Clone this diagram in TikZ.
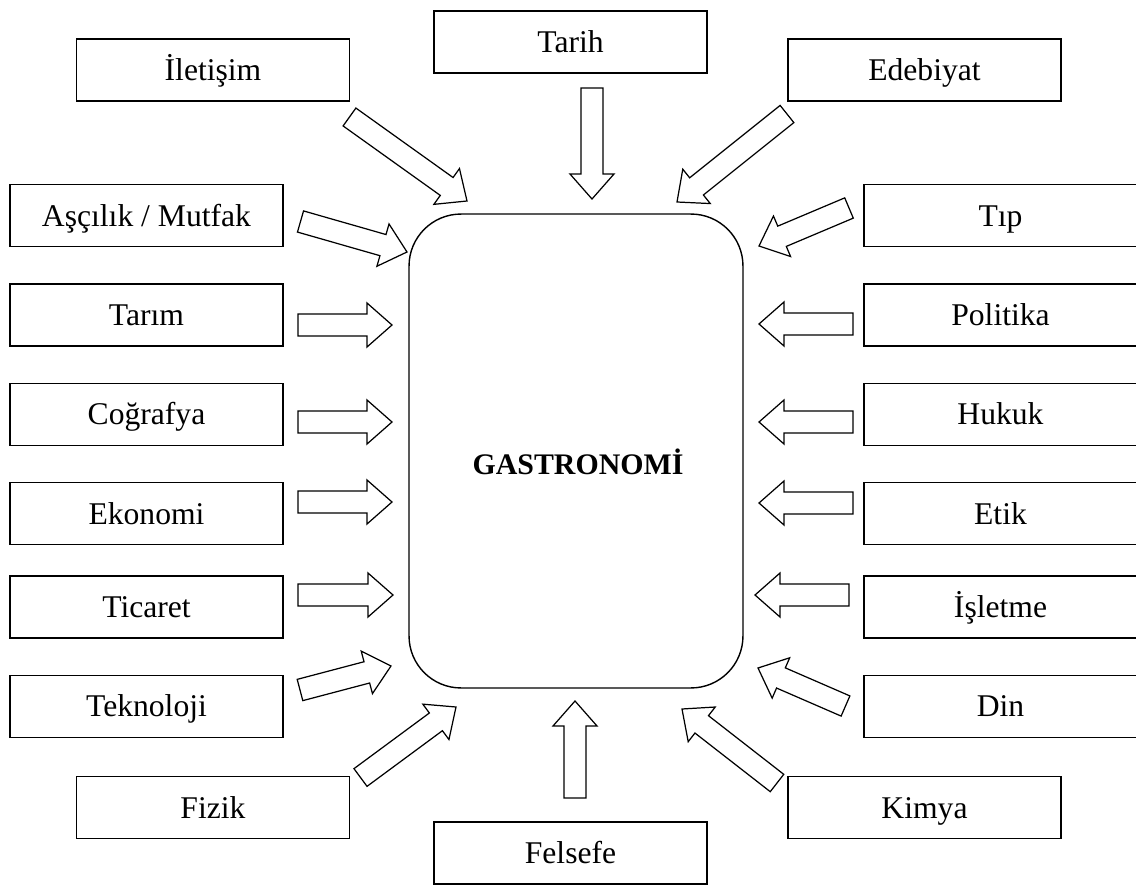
\documentclass[tikz,border=0pt]{standalone}
\usepackage{fontspec}
\setmainfont{Liberation Serif}
\usetikzlibrary{positioning, calc}

% hollow block arrow from tail #1 to tip #2
\newcommand{\fatarrow}[2]{%
  \draw[fat] let \p1=($(#2)-(#1)$), \n1={atan2(\y1,\x1)} in
    ($(#1)+({\n1+90}:0.22cm)$) --
    ($(#2)+({\n1+180}:0.5cm)+({\n1+90}:0.22cm)$) --
    ($(#2)+({\n1+180}:0.5cm)+({\n1+90}:0.44cm)$) --
    (#2) --
    ($(#2)+({\n1+180}:0.5cm)+({\n1-90}:0.44cm)$) --
    ($(#2)+({\n1+180}:0.5cm)+({\n1-90}:0.22cm)$) --
    ($(#1)+({\n1-90}:0.22cm)$) -- cycle;}

\begin{document}
\begin{tikzpicture}[x=0.02cm, y=-0.02cm, node distance=0.72cm]
		\tikzstyle{block} = [rectangle, draw, line width=0.8pt, minimum width=5.46cm, minimum height=1.24cm, text height=16pt, text depth=4pt, font=\fontsize{18}{22}\selectfont]
		\tikzstyle{core} = [rectangle, draw, line width=0.8pt, rounded corners=1.04cm, minimum width=6.68cm, minimum height=9.48cm]
		\tikzstyle{fat} = [draw, line width=0.7pt, line join=miter]
		
		\useasboundingbox (0,0) rectangle (1136,885);
		
		\node [core] (gastro) at (576,451) {};
		\node [font=\fontsize{17}{21}\selectfont\bfseries, text height=15pt, text depth=4pt] (title) at (578,465) {GASTRONOMİ};
		
		% top
		\node [block] (iletisim) at (213,70) {İletişim};
		\node [block] (tarih) at (570.5,42) {Tarih};
		\node [block] (edebiyat) at (924.5,70) {Edebiyat};
		
		% left column
		\node [block] (asci) at (146.5,215.5) {Aşçılık / Mutfak};
		\node [block, below=of asci] (tarim) {Tarım};
		\node [block, below=of tarim] (cografya) {Coğrafya};
		\node [block, below=of cografya] (ekonomi) {Ekonomi};
		\node [block, below=0.6cm of ekonomi] (ticaret) {Ticaret};
		\node [block, below=of ticaret] (teknoloji) {Teknoloji};
		
		% right column
		\node [block] (tip) at (1000.5,215.5) {Tıp};
		\node [block, below=of tip] (politika) {Politika};
		\node [block, below=of politika] (hukuk) {Hukuk};
		\node [block, below=of hukuk] (etik) {Etik};
		\node [block, below=0.6cm of etik] (isletme) {İşletme};
		\node [block, below=of isletme] (din) {Din};
		
		% bottom
		\node [block] (fizik) at (213,807.5) {Fizik};
		\node [block] (felsefe) at (570.5,853) {Felsefe};
		\node [block] (kimya) at (924.5,807.5) {Kimya};
		
		% arrow ends
		\coordinate (iletisim-t) at (349.5,117);  \coordinate (iletisim-h) at (467,201);
		\coordinate (tarih-t) at (592,88);        \coordinate (tarih-h) at (592,199);
		\coordinate (edebiyat-t) at (787,114);    \coordinate (edebiyat-h) at (677,202);
		\coordinate (asci-t) at (300.5,221.5);    \coordinate (asci-h) at (407,252);
		\coordinate (tip-t) at (849,208);         \coordinate (tip-h) at (759,246);
		\coordinate (tarim-t) at (298,325);       \coordinate (tarim-h) at (392,325);
		\coordinate (cografya-t) at (298,422);    \coordinate (cografya-h) at (392,422);
		\coordinate (ekonomi-t) at (298,502);     \coordinate (ekonomi-h) at (392,502);
		\coordinate (ticaret-t) at (298,595);     \coordinate (ticaret-h) at (393,595);
		\coordinate (teknoloji-t) at (300,690);   \coordinate (teknoloji-h) at (391,666);
		\coordinate (fizik-t) at (360.5,777.5);   \coordinate (fizik-h) at (456,707);
		\coordinate (felsefe-t) at (575,798);     \coordinate (felsefe-h) at (575,701);
		\coordinate (kimya-t) at (777,783);       \coordinate (kimya-h) at (682,709);
		\coordinate (din-t) at (845.5,706);       \coordinate (din-h) at (758,668);
		\coordinate (isletme-t) at (849,595);     \coordinate (isletme-h) at (755,595);
		\coordinate (etik-t) at (853,503);        \coordinate (etik-h) at (759,503);
		\coordinate (hukuk-t) at (853,422);       \coordinate (hukuk-h) at (759,422);
		\coordinate (politika-t) at (853,324);    \coordinate (politika-h) at (759,324);
		
		\fatarrow{iletisim-t}{iletisim-h}
		\fatarrow{tarih-t}{tarih-h}
		\fatarrow{edebiyat-t}{edebiyat-h}
		\fatarrow{asci-t}{asci-h}
		\fatarrow{tip-t}{tip-h}
		\fatarrow{tarim-t}{tarim-h}
		\fatarrow{cografya-t}{cografya-h}
		\fatarrow{ekonomi-t}{ekonomi-h}
		\fatarrow{ticaret-t}{ticaret-h}
		\fatarrow{teknoloji-t}{teknoloji-h}
		\fatarrow{fizik-t}{fizik-h}
		\fatarrow{felsefe-t}{felsefe-h}
		\fatarrow{kimya-t}{kimya-h}
		\fatarrow{din-t}{din-h}
		\fatarrow{isletme-t}{isletme-h}
		\fatarrow{etik-t}{etik-h}
		\fatarrow{hukuk-t}{hukuk-h}
		\fatarrow{politika-t}{politika-h}
	\end{tikzpicture}
\end{document}
